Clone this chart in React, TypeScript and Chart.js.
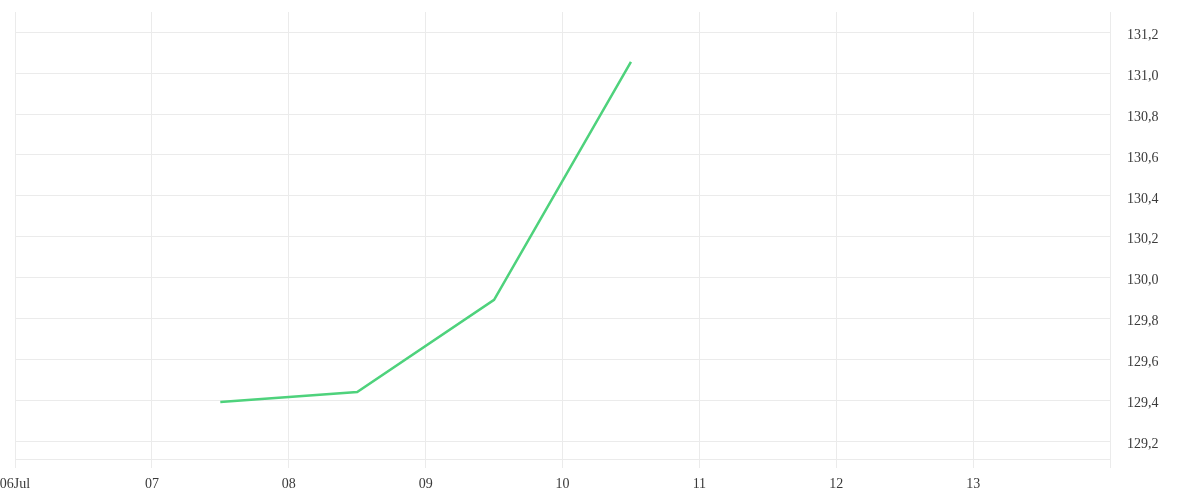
import React, { useEffect, useRef } from "react";
import { Chart, registerables } from "chart.js";

Chart.register(...registerables);

const dayPositions = [7.5, 8.5, 9.5, 10.5];
const priceValues = [129.392, 129.441, 129.891, 131.055];
const xTickDays = [6, 7, 8, 9, 10, 11, 12, 13, 14];
const xTickLabels = ["06Jul", "07", "08", "09", "10", "11", "12", "13", ""];
const yTickValues = [129.2, 129.4, 129.6, 129.8, 130.0, 130.2, 130.4, 130.6, 130.8, 131.0, 131.2];
const yMin = 129.113;
const yMax = 131.299;

export default function App() {
  const ref = useRef<HTMLCanvasElement | null>(null);
  useEffect(() => {
    document.body.style.margin = "0";
    const canvas = ref.current;
    if (!canvas) return;
    const chart = new Chart(canvas, {
      type: "line",
      data: {
        datasets: [
          {
            data: dayPositions.map((d, i) => ({ x: d, y: priceValues[i] })),
            borderColor: "#4ed27c",
            borderWidth: 2.5,
            pointRadius: 0,
            tension: 0,
            fill: false,
          },
        ],
      },
      options: {
        animation: false,
        responsive: false,
        maintainAspectRatio: false,
        layout: { padding: { top: 12, right: 0, left: 0, bottom: 0 } },
        plugins: { legend: { display: false }, tooltip: { enabled: false } },
        scales: {
          x: {
            type: "linear",
            min: 6,
            max: 14,
            afterBuildTicks: (scale: any) => {
              scale.ticks = xTickDays.map((v) => ({ value: v }));
            },
            afterFit: (scale: any) => {
              scale.paddingLeft = 15;
              scale.paddingRight = 0;
              scale.height = 41;
            },
            grid: { color: "#ebebeb", lineWidth: 1, drawTicks: true, tickLength: 9 },
            border: { color: "#ebebeb" },
            ticks: {
              autoSkip: false,
              maxRotation: 0,
              padding: 8,
              color: "#3a3a3a",
              font: { family: "serif", size: 14 },
              callback: (v: any) => {
                const i = xTickDays.indexOf(Number(v));
                return i >= 0 ? xTickLabels[i] : "";
              },
            },
          },
          y: {
            type: "linear",
            position: "right",
            min: yMin,
            max: yMax,
            afterBuildTicks: (scale: any) => {
              scale.ticks = yTickValues.map((v) => ({ value: v }));
            },
            afterFit: (scale: any) => {
              scale.width = 90;
              scale.paddingTop = 0;
              scale.paddingBottom = 0;
            },
            grid: { color: "#ebebeb", lineWidth: 1, drawTicks: false },
            border: { color: "#ebebeb" },
            ticks: {
              padding: 17,
              labelOffset: 3,
              color: "#3a3a3a",
              font: { family: "serif", size: 14 },
              callback: (v: any) => Number(v).toFixed(1).replace(".", ","),
            },
          },
        },
      },
    });
    return () => chart.destroy();
  }, []);
  return (
    <div style={{ width: 1200, height: 500 }}>
      <canvas ref={ref} width={1200} height={500} style={{ display: "block" }} />
    </div>
  );
}
